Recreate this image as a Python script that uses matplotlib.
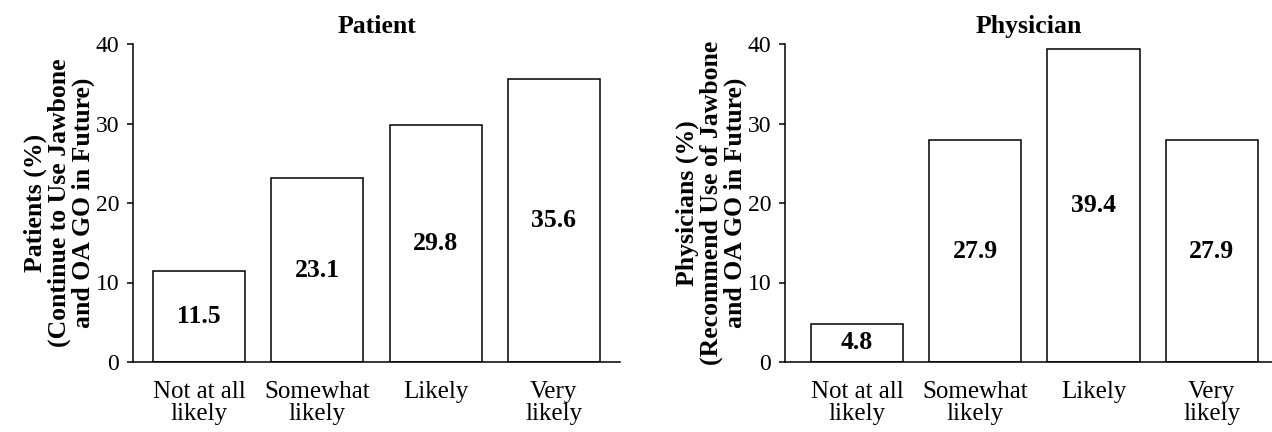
import matplotlib
matplotlib.use('Agg')
import matplotlib.pyplot as plt

categories = ['Not at all\nlikely', 'Somewhat\nlikely', 'Likely', 'Very\nlikely']
patient_vals = [11.5, 23.1, 29.8, 35.6]
physician_vals = [4.8, 27.9, 39.4, 27.9]
yticks = [0, 10, 20, 30, 40]

plt.rcParams['font.family'] = ['Liberation Serif', 'DejaVu Serif']

fig = plt.figure(figsize=(12.72, 4.32), dpi=100)
ax1 = fig.add_axes([133 / 1272, 1 - 362 / 432, 487 / 1272, 318 / 432])
ax2 = fig.add_axes([785 / 1272, 1 - 362 / 432, 487 / 1272, 318 / 432])


def draw(ax, vals, title, ylabel, xlim):
    x = range(len(vals))
    bars = ax.bar(x, vals, width=0.78, color='white', edgecolor='black', linewidth=1.1)
    for b, v in zip(bars, vals):
        ax.text(b.get_x() + b.get_width() / 2, v / 2, '{:.1f}'.format(v),
                ha='center', va='center', fontsize=18.5, fontweight='bold')
    ax.set_xlim(*xlim)
    ax.set_ylim(0, 40)
    ax.set_yticks(yticks)
    ax.set_xticks(list(x))
    ax.set_xticklabels(categories, fontsize=18, linespacing=1.0)
    ax.tick_params(axis='x', length=0, pad=14)
    ax.tick_params(axis='y', length=4, width=1.1, pad=6, labelsize=17)
    for s in ['top', 'right']:
        ax.spines[s].set_visible(False)
    for s in ['left', 'bottom']:
        ax.spines[s].set_linewidth(1.1)
    ax.set_title(title, fontsize=18.5, fontweight='bold', pad=8)
    ax.set_ylabel(ylabel, fontsize=18.5, fontweight='bold', linespacing=1.05, labelpad=0)


draw(ax1, patient_vals, 'Patient',
     'Patients (%)\n(Continue to Use Jawbone\nand OA GO in Future)', (-0.56, 3.56))
draw(ax2, physician_vals, 'Physician',
     'Physicians (%)\n(Recommend Use of Jawbone\nand OA GO in Future)', (-0.61, 3.51))

fig.savefig('out.png', dpi=100)
